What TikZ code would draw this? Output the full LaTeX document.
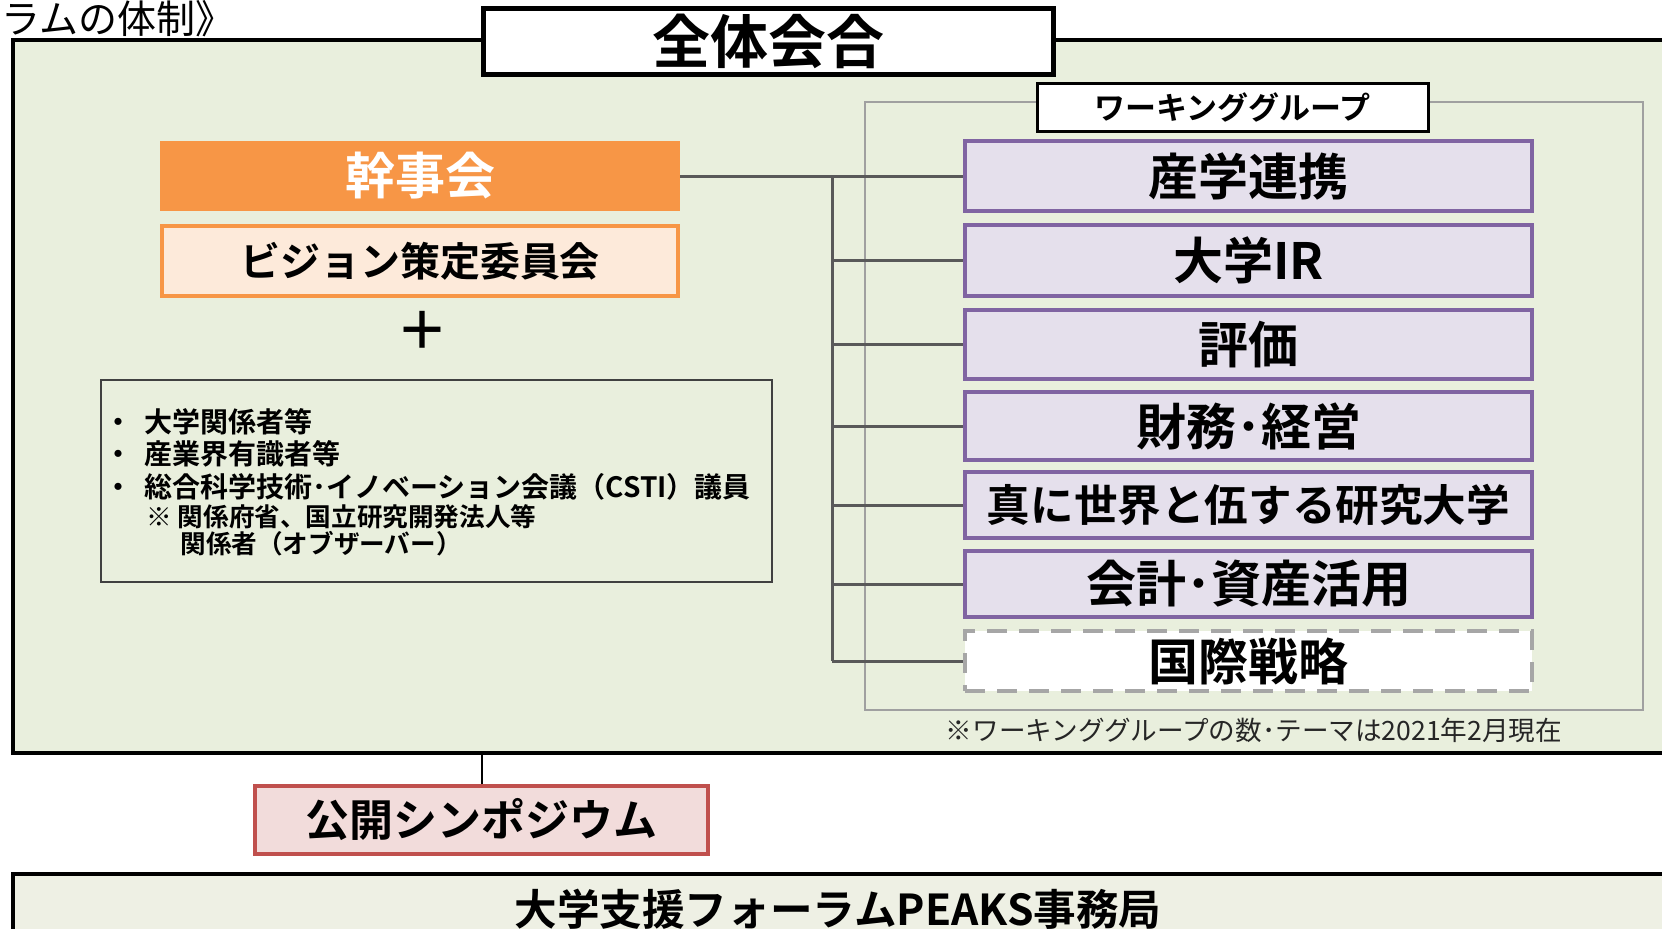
\documentclass[tikz,border=0pt]{standalone}
\usepackage{fontspec}
\setmainfont{Noto Sans CJK JP}[BoldFont={* Bold}]
\definecolor{bggreen}{RGB}{233,239,221}
\definecolor{orangeA}{RGB}{247,150,70}
\definecolor{orangeL}{RGB}{253,234,218}
\definecolor{purpB}{RGB}{128,100,162}
\definecolor{purpF}{RGB}{229,224,236}
\definecolor{redB}{RGB}{192,80,77}
\definecolor{redF}{RGB}{242,220,219}
\definecolor{connG}{RGB}{89,89,89}
\definecolor{frameG}{RGB}{160,160,160}
\definecolor{dashG}{RGB}{166,166,166}
\definecolor{officeF}{RGB}{238,240,228}
\tikzset{
  box/.style={rectangle, inner sep=0pt, anchor=center, font=\bfseries},
  wgbox/.style={box, draw=purpB, fill=purpF, line width=2pt, minimum width=283.5pt, font=\bfseries\fontsize{25}{27}\selectfont},
  conn/.style={draw=connG, line width=1.5pt},
  txt/.style={inner sep=0pt, anchor=center},
  listtxt/.style={txt, anchor=west, font=\bfseries\fontsize{14}{16}\selectfont},
  subtxt/.style={txt, anchor=west, font=\bfseries\fontsize{12.8}{14}\selectfont}
}
\begin{document}
\begin{tikzpicture}[x=0.5pt,y=-0.5pt]
\useasboundingbox (0,0) rectangle (1662,928);
% title fragment
\node[txt, anchor=west] (title) at (1,19) {\fontsize{19.5}{21}\selectfont ラムの体制》};
% main frame
\node[box, draw=black, fill=bggreen, line width=2pt, minimum width=827.5pt, minimum height=356.5pt] (main) at (840.5,396.5) {};
% 全体会合
\node[box, draw=black, fill=white, line width=2.5pt, minimum width=285pt, minimum height=33pt, font=\bfseries\fontsize{29}{31}\selectfont] (zentai) at (768,41) {全体会合};
% working group frame
\node[box, draw=frameG, line width=0.8pt, minimum width=389pt, minimum height=304pt] (wgframe) at (1254,406) {};
\node[box, draw=black, fill=white, line width=1.5pt, minimum width=195.5pt, minimum height=24pt, font=\bfseries\fontsize{15.5}{17}\selectfont] (wglabel) at (1232.5,107) {ワーキンググループ};
% left side
\node[box, fill=orangeA, text=white, minimum width=260pt, minimum height=35pt, font=\bfseries\fontsize{25}{27}\selectfont] (kanji) at (420,176) {幹事会};
\node[box, draw=orangeA, fill=orangeL, line width=2pt, minimum width=258pt, minimum height=35pt, font=\bfseries\fontsize{20}{22}\selectfont] (vision) at (420,261) {ビジョン策定委員会};
\node[txt, font=\bfseries\fontsize{26}{28}\selectfont] (plus) at (422,330) {＋};
\node[box, draw=black!75, line width=0.8pt, minimum width=335.5pt, minimum height=101pt] (list) at (436.5,481) {};
\node[listtxt] (l1) at (104,422) {・\hspace{6pt}大学関係者等};
\node[listtxt] (l2) at (104,454) {・\hspace{6pt}産業界有識者等};
\node[listtxt] (l3) at (104,487) {・\hspace{6pt}総合科学技術･イノベーション会議（CSTI）議員};
\node[subtxt] (l4) at (146,517) {※ 関係府省、国立研究開発法人等};
\node[subtxt] (l5) at (180,544) {関係者（オブザーバー）};
% WG boxes
\node[wgbox, minimum height=35pt] (wg1) at (1248.5,176) {産学連携};
\node[wgbox, minimum height=35.5pt] (wg2) at (1248.5,260.5) {大学IR};
\node[wgbox, minimum height=34.5pt] (wg3) at (1248.5,344.5) {評価};
\node[wgbox, minimum height=34pt] (wg4) at (1248.5,426) {財務･経営};
\node[wgbox, minimum height=33pt, font=\bfseries\fontsize{21.8}{23}\selectfont] (wg5) at (1248.5,505) {真に世界と伍する研究大学};
\node[wgbox, minimum height=33pt] (wg6) at (1248.5,584) {会計･資産活用};
\node[box, draw=dashG, fill=white, line width=2pt, dash pattern=on 10pt off 6pt, minimum width=283.5pt, minimum height=30pt, font=\bfseries\fontsize{25}{27}\selectfont] (wg7) at (1248.5,661) {国際戦略};
% connectors
\coordinate (trtop) at (832,176);
\coordinate (trbot) at (832,661);
\draw[conn] (kanji.east) -- (wg1.west);
\draw[conn] (trtop) -- (trbot);
\foreach \i in {2,...,7} { \draw[conn] (wg\i.west -| trtop) -- (wg\i.west); }
% footnote
\node[txt, font=\fontsize{13.3}{15}\selectfont, text=black!85] (foot) at (1254,730) {※ワーキンググループの数･テーマは2021年2月現在};
% symposium
\node[box, draw=redB, fill=redF, line width=2pt, minimum width=226.5pt, minimum height=34pt, font=\bfseries\fontsize{22}{24}\selectfont] (sympo) at (481.5,820) {公開シンポジウム};
\draw[black, line width=1pt] (sympo.north) -- (sympo.north |- main.south);
% office
\node[box, draw=black, fill=officeF, line width=2pt, minimum width=833.5pt, minimum height=38pt] (office) at (846.5,912) {};
\node[txt, font=\bfseries\fontsize{21.3}{23}\selectfont] (officet) at (838,909) {大学支援フォーラムPEAKS事務局};
\end{tikzpicture}
\end{document}
